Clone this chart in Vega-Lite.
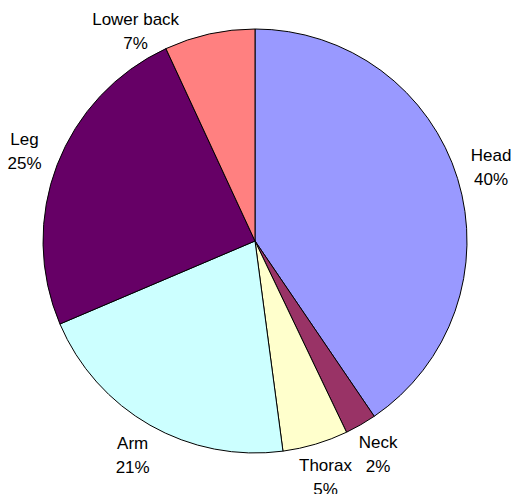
{
  "$schema": "https://vega.github.io/schema/vega-lite/v6.json",
  "autosize": "none",
  "width": 510,
  "height": 482,
  "padding": {"top": 0, "left": 0, "right": 2, "bottom": 12},
  "background": "white",
  "title": {
    "text": "Injury Complaints by Location",
    "font": "Liberation Sans",
    "fontSize": 22,
    "fontWeight": "bold",
    "color": "black",
    "anchor": "middle",
    "frame": "group",
    "baseline": "alphabetic",
    "offset": 1
  },
  "data": {
    "values": [
      {"part": "Head", "value": 40.49, "pct": "40%", "order": 1},
      {"part": "Neck", "value": 2.4, "pct": "2%", "order": 2},
      {"part": "Thorax", "value": 5.0, "pct": "5%", "order": 3},
      {"part": "Arm", "value": 20.7, "pct": "21%", "order": 4},
      {"part": "Leg", "value": 24.5, "pct": "25%", "order": 5},
      {"part": "Lower back", "value": 6.9, "pct": "7%", "order": 6}
    ]
  },
  "encoding": {
    "theta": {"field": "value", "type": "quantitative", "stack": true},
    "order": {"field": "order", "type": "quantitative"}
  },
  "layer": [
    {
      "mark": {"type": "arc", "radius": 212, "stroke": "black", "strokeWidth": 1},
      "encoding": {
        "color": {
          "field": "part",
          "type": "nominal",
          "scale": {
            "domain": ["Head", "Neck", "Thorax", "Arm", "Leg", "Lower back"],
            "range": ["#9999FF", "#993366", "#FFFFCC", "#CCFFFF", "#660066", "#FF8080"]
          },
          "legend": null
        }
      }
    },
    {
      "mark": {"type": "text", "radius": 247, "dy": -12, "font": "Liberation Sans", "fontSize": 17, "color": "black", "align": "center", "baseline": "middle"},
      "encoding": {"text": {"condition": {"test": "datum.part === 'Lower back'", "value": ""}, "field": "part"}}
    },
    {
      "mark": {"type": "text", "radius": 247, "dy": 12, "font": "Liberation Sans", "fontSize": 17, "color": "black", "align": "center", "baseline": "middle"},
      "encoding": {"text": {"condition": {"test": "datum.part === 'Lower back'", "value": ""}, "field": "pct"}}
    },
    {
      "mark": {"type": "text", "radius": 248, "dx": -66, "dy": 21, "font": "Liberation Sans", "fontSize": 17, "color": "black", "align": "center", "baseline": "middle"},
      "encoding": {"text": {"condition": {"test": "datum.part !== 'Lower back'", "value": ""}, "field": "part"}}
    },
    {
      "mark": {"type": "text", "radius": 248, "dx": -66, "dy": 45, "font": "Liberation Sans", "fontSize": 17, "color": "black", "align": "center", "baseline": "middle"},
      "encoding": {"text": {"condition": {"test": "datum.part !== 'Lower back'", "value": ""}, "field": "pct"}}
    }
  ]
}
